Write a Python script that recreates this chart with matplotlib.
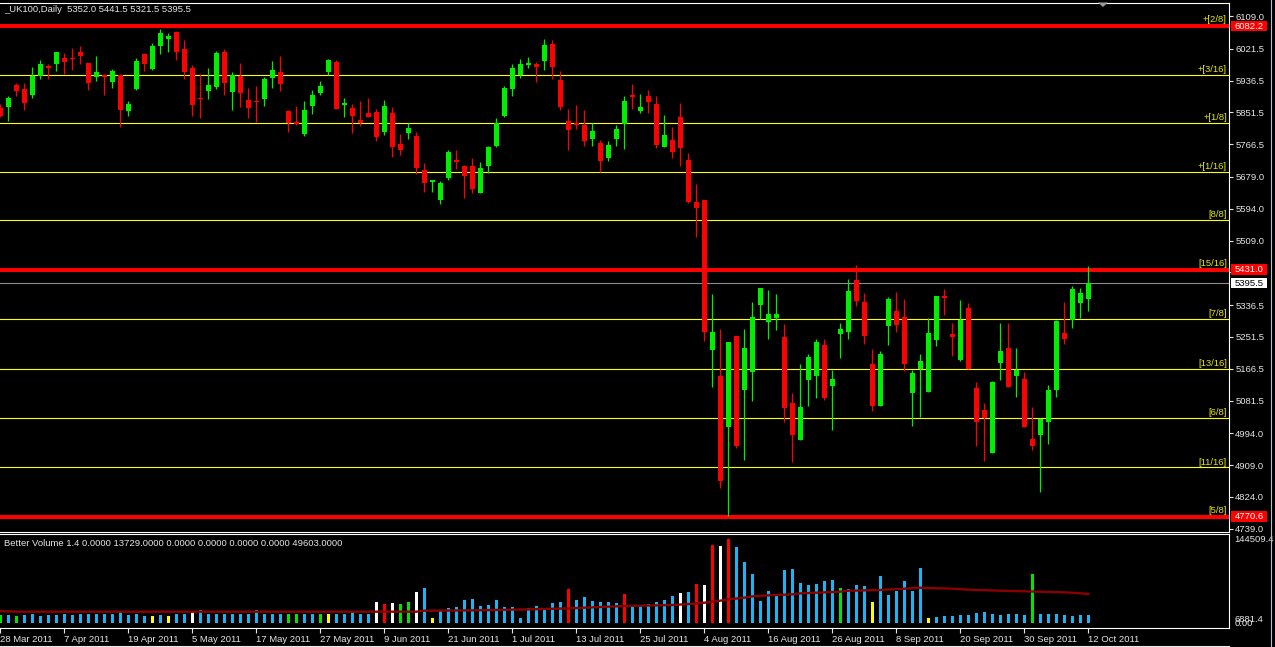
import matplotlib
matplotlib.use('Agg')
import matplotlib.pyplot as plt
import matplotlib.transforms as mtrans
from matplotlib.patches import Rectangle, Polygon
from matplotlib.lines import Line2D

plt.rcParams['font.family'] = ['Liberation Sans', 'DejaVu Sans']

# daily OHLC, 28 Mar 2011 .. 12 Oct 2011 (one entry per trading day)
opens = [5864, 5866, 5924, 5914, 5898, 5949, 5975, 5981, 5998, 5997,
         6013, 5983, 5947, 5951, 5933, 5951, 5856, 5914, 6007, 5967,
         6030, 6048, 6066, 6021, 5970, 5891, 5908, 5919, 6013, 5906,
         5948, 5884, 5882, 5888, 5943, 5959, 5855, 5825, 5794, 5869,
         5903, 5960, 5986, 5872, 5863, 5831, 5849, 5852, 5800, 5849,
         5767, 5797, 5788, 5697, 5666, 5617, 5676, 5724, 5708, 5708,
         5636, 5708, 5762, 5841, 5914, 5952, 5979, 5981, 5989, 6034,
         5938, 5828, 5823, 5817, 5781, 5769, 5730, 5781, 5821, 5898,
         5856, 5895, 5874, 5759, 5777, 5839, 5724, 5611, 5617, 5216,
         5146, 5010, 5255, 5109, 5157, 5337, 5291, 5302, 5250, 5074,
         4975, 5136, 5147, 5229, 5120, 5259, 5264, 5403, 5346, 5178,
         5066, 5280, 5320, 5304, 5101, 5165, 5104, 5243, 5360, 5258,
         5189, 5330, 5114, 5057, 4941, 5181, 5221, 5147, 5140, 4980,
         4989, 5023, 5109, 5261, 5298, 5342, 5352.0]
highs = [5875, 5895, 5929, 5929, 5973, 5991, 5982, 6013, 6009, 6023,
         6029, 5983, 6002, 5954, 5967, 5954, 5882, 5997, 6011, 6038,
         6074, 6063, 6069, 6045, 5978, 5954, 5970, 6016, 6021, 5959,
         5983, 5916, 5922, 5946, 5989, 6002, 5858, 5868, 5882, 5911,
         5935, 5994, 5991, 5890, 5874, 5882, 5890, 5860, 5884, 5866,
         5793, 5823, 5799, 5715, 5672, 5669, 5750, 5750, 5710, 5729,
         5718, 5761, 5836, 5922, 5981, 5994, 5999, 5986, 6047, 6045,
         5962, 5860, 5871, 5858, 5823, 5777, 5775, 5817, 5895, 5927,
         5900, 5911, 5895, 5844, 5812, 5876, 5742, 5660, 5617, 5365,
         5274, 5237, 5255, 5274, 5346, 5381, 5376, 5365, 5285, 5103,
         5178, 5205, 5245, 5245, 5162, 5288, 5405, 5443, 5368, 5218,
         5213, 5357, 5371, 5352, 5162, 5207, 5301, 5360, 5379, 5288,
         5349, 5341, 5130, 5076, 5135, 5288, 5288, 5223, 5159, 5063,
         5036, 5124, 5296, 5344, 5387, 5381, 5441.5]
lows = [5840, 5829, 5895, 5859, 5891, 5940, 5940, 5962, 5954, 5966,
        5982, 5911, 5935, 5898, 5917, 5813, 5841, 5911, 5962, 5965,
        6008, 6013, 5991, 5940, 5842, 5837, 5887, 5914, 5898, 5858,
        5866, 5837, 5826, 5868, 5916, 5909, 5800, 5817, 5789, 5847,
        5898, 5951, 5861, 5840, 5797, 5816, 5840, 5775, 5792, 5733,
        5738, 5781, 5687, 5639, 5639, 5607, 5671, 5700, 5623, 5636,
        5636, 5689, 5759, 5839, 5896, 5944, 5971, 5933, 5965, 5940,
        5858, 5751, 5807, 5762, 5762, 5692, 5722, 5762, 5754, 5860,
        5850, 5849, 5757, 5759, 5730, 5708, 5609, 5518, 5240, 5117,
        4847, 4774, 4954, 4922, 5080, 5299, 5246, 5270, 5023, 4916,
        4975, 5066, 5088, 5082, 5002, 5195, 5246, 5334, 5232, 5053,
        5066, 5229, 5264, 5160, 5013, 5037, 5104, 5227, 5309, 5200,
        5187, 5165, 4959, 4919, 4941, 5136, 5117, 5090, 5010, 4949,
        4836, 4965, 5090, 5232, 5275, 5302, 5321.5]
closes = [5842, 5891, 5908, 5877, 5948, 5981, 5971, 6013, 5987, 5994,
          6003, 5931, 5959, 5947, 5962, 5858, 5874, 5989, 5981, 6029,
          6064, 6056, 6014, 5960, 5871, 5887, 5924, 6011, 5931, 5951,
          5903, 5864, 5878, 5940, 5965, 5928, 5824, 5822, 5858, 5898,
          5922, 5991, 5861, 5876, 5842, 5824, 5840, 5786, 5868, 5759,
          5751, 5809, 5703, 5663, 5672, 5662, 5745, 5719, 5682, 5647,
          5702, 5759, 5823, 5916, 5970, 5981, 5984, 5973, 6031, 5973,
          5866, 5805, 5817, 5775, 5801, 5722, 5764, 5807, 5882, 5892,
          5866, 5880, 5765, 5791, 5746, 5757, 5612, 5596, 5264, 5266,
          4866, 5237, 4959, 5223, 5304, 5381, 5314, 5312, 5061, 4989,
          5065, 5197, 5239, 5088, 5138, 5272, 5373, 5347, 5254, 5066,
          5205, 5354, 5283, 5179, 5154, 5186, 5263, 5360, 5355, 5251,
          5298, 5165, 5023, 5034, 5130, 5215, 5117, 5162, 5010, 4959,
          5031, 5111, 5294, 5246, 5379, 5368, 5395.5]

# Better Volume histogram and its average line
volumes = [13300, 13300, 11600, 13300, 15000, 11600, 13300, 13300, 15000, 13300,
           15000, 15000, 15000, 15000, 15000, 20200, 13300, 15000, 11600, 11600,
           13300, 11600, 15000, 15000, 20200, 21900, 15000, 15000, 15000, 15000,
           15000, 15000, 21900, 15000, 15000, 15000, 15000, 15000, 15000, 15000,
           15000, 15000, 15000, 15000, 20200, 15000, 15000, 35700, 32300, 34000,
           32300, 35700, 53000, 59900, 8100, 20200, 25400, 27100, 39200, 40900,
           28800, 30600, 39200, 27100, 27100, 8100, 25400, 28800, 23600, 34000,
           35700, 58200, 39200, 44400, 37500, 35700, 35700, 34000, 49500, 27100,
           28800, 32300, 35700, 39200, 46100, 51300, 53000, 66800, 65100, 134100,
           132400, 144500, 130700, 104800, 84100, 37500, 54700, 46100, 91000, 92700,
           68500, 65100, 66800, 72000, 73700, 59900, 58200, 65100, 63300, 35700,
           80600, 47800, 54700, 72000, 54700, 94400, 8100, 9800, 11600, 11600,
           13300, 13300, 16700, 18500, 15000, 13300, 15000, 15000, 13300, 84100,
           15000, 15000, 15000, 13300, 11600, 13300, 13729]
# b=normal, g=low-volume churn, r=climax, w=high churn, y=low volume
vol_type = ("gbgbbbbbbb" "bbbbbbbbby" "bybbwbbbbb" "bbbbbbggbb" "gybbbbbwrw"
            "ggwbybbbbb" "bbbbbbbbbb" "brbbbbbbrb" "bbbbbwbrwr" "wrbbbbbbbb"
            "bbbbbgbbby" "bbbbbbybbb" "bbbbbbbbbg" "bbbbbbb")
ma_bar = [0, 2, 52, 53, 59, 66, 71, 74, 78, 84, 86, 88, 90, 91, 93, 94, 96, 99,
          100, 102, 105, 106, 110, 113, 115, 119, 121, 125, 133, 135, 136]
ma_val = [20100, 19000, 19000, 20700, 21300, 23000, 24700, 26500, 28800, 30500,
          32200, 34500, 38000, 40300, 43200, 45400, 47200, 48900, 50600, 51800,
          53500, 55200, 56400, 58700, 60400, 58700, 57000, 55200, 52500, 50800, 49603]

date_labels = ['28 Mar 2011', '7 Apr 2011', '19 Apr 2011', '5 May 2011', '17 May 2011',
               '27 May 2011', '9 Jun 2011', '21 Jun 2011', '1 Jul 2011', '13 Jul 2011',
               '25 Jul 2011', '4 Aug 2011', '16 Aug 2011', '26 Aug 2011', '8 Sep 2011',
               '20 Sep 2011', '30 Sep 2011', '12 Oct 2011']
# the 5424.0 tick sits under the red 5431.0 box, so its label is left out
price_ticks = [6109.0, 6021.5, 5936.5, 5851.5, 5766.5, 5679.0, 5594.0, 5509.0, 5424.0,
               5336.5, 5251.5, 5166.5, 5081.5, 4994.0, 4909.0, 4824.0, 4739.0]

# Murrey math levels
mm_levels = [6082.2, 5952.5, 5822.7, 5692.9, 5563.1, 5431.0, 5298.9, 5166.8, 5034.8, 4902.7, 4770.6]
mm_labels = ['+[2/8]', '+[3/16]', '+[1/8]', '+[1/16]', '[8/8]', '[15/16]', '[7/8]',
             '[13/16]', '[6/8]', '[11/16]', '[5/8]']
mm_major = [True, False, False, False, False, True, False, False, False, False, True]
last_price = 5395.5

W, H = 1275, 647
FS = 6.8
TXT = '#e6e6e6'


def px_box(x0, y0, x1, y1):
    return [x0 / W, 1 - y1 / H, (x1 - x0) / W, (y1 - y0) / H]


fig = plt.figure(figsize=(W / 100, H / 100), dpi=100, facecolor='black')
ax = fig.add_axes(px_box(0, 2.5, 1229, 531.5), facecolor='black')
ax2 = fig.add_axes(px_box(0, 534, 1229, 628), facecolor='black', sharex=ax)

for a in (ax, ax2):
    for s in ('top', 'right', 'bottom'):
        a.spines[s].set_color('white')
        a.spines[s].set_linewidth(0.8)
    a.spines['left'].set_visible(False)

idx = list(range(len(opens)))
ax.set_xlim(-0.04, 153.6)
ax.set_ylim(4731.6, 6145.1)

# levels
for lv, lab, major in zip(mm_levels, mm_labels, mm_major):
    if major:
        ax.axhline(lv, color='#ff0000', lw=2.9, zorder=2)
    else:
        ax.axhline(lv, color='#ffff00', lw=0.8, zorder=2)
    ax.annotate(lab, xy=(1, lv), xycoords=('axes fraction', 'data'),
                xytext=(-1.5, 1.6 if major else 0.6), textcoords='offset points',
                ha='right', va='bottom', color='#e8e800', fontsize=FS, zorder=5)
ax.axhline(last_price, color='#8c8c8c', lw=0.8, zorder=2)

# candles
col = ['#00ee00' if c >= o else '#ff0000' for o, c in zip(opens, closes)]
ax.vlines(idx, lows, highs, colors=col, linewidth=0.9, zorder=3)
bottoms, heights = [], []
for o, c in zip(opens, closes):
    h = abs(c - o)
    if h < 3.5:
        bottoms.append(min(o, c) - (3.5 - h) / 2)
        heights.append(3.5)
    else:
        bottoms.append(min(o, c))
        heights.append(h)
ax.bar(idx, heights, bottom=bottoms, width=0.62, color=col, linewidth=0, zorder=4)

ax.yaxis.tick_right()
ax.set_yticks(price_ticks)
ax.set_yticklabels(['' if v == 5424.0 else f'{v:.1f}' for v in price_ticks])
ax.tick_params(axis='y', colors=TXT, labelsize=FS, length=3, width=0.8, pad=1.5)
ax.tick_params(axis='x', bottom=False, labelbottom=False)

bt = mtrans.blended_transform_factory(ax.transAxes, ax.transData)
boxes = [(mm_levels[0], '#ff0000', 'white'), (mm_levels[5], '#ff0000', 'white'),
         (mm_levels[-1], '#ff0000', 'white'), (last_price, 'white', 'black')]
for val, fc, tc in boxes:
    ax.add_patch(Rectangle((1231 / 1229, val - 14.5), 36 / 1229, 29, transform=bt,
                           fc=fc, ec='none', clip_on=False, zorder=6))
    ax.text(1249 / 1229, val, f'{val:.1f}', transform=bt, ha='center', va='center',
            color=tc, fontsize=FS, zorder=7, clip_on=False)

# volume panel
vcol = {'b': '#1ab6f4', 'g': '#00e600', 'r': '#ff0000', 'w': '#ffffff', 'y': '#ffff00'}
ax2.bar(idx, volumes, width=0.375, color=[vcol[t] for t in vol_type], linewidth=0, zorder=3)
ax2.plot(ma_bar, ma_val, color='#8b0000', lw=1.7, zorder=4)
ax2.set_ylim(-9150, 153100)
ax2.yaxis.tick_right()
ax2.set_yticks([144509.4, 6881.4, 0])
ax2.set_yticklabels(['144509.4', '6881.4', '0.00'])
ax2.tick_params(axis='y', colors=TXT, labelsize=FS, length=0, pad=4)
ax2.set_xticks(range(0, len(idx), 8))
ax2.set_xticklabels(date_labels, ha='left')
ax2.tick_params(axis='x', colors=TXT, labelsize=FS, length=3.5, width=0.8, pad=1.2)

fig.text(4 / W, 1 - 10 / H, '_UK100,Daily  5352.0 5441.5 5321.5 5395.5',
         color=TXT, fontsize=FS, va='center', ha='left')
fig.text(4 / W, 1 - 544 / H,
         'Better Volume 1.4 0.0000 13729.0000 0.0000 0.0000 0.0000 0.0000 49603.0000',
         color=TXT, fontsize=FS, va='center', ha='left')

# window chrome
fig.patches.append(Polygon([[1098 / W, 1 - 2.5 / H], [1108 / W, 1 - 2.5 / H], [1103 / W, 1 - 7 / H]],
                           closed=True, transform=fig.transFigure, fc='#9a9a9a', ec='none'))
fig.lines.append(Line2D([1271 / W, 1271 / W], [0, 1], transform=fig.transFigure,
                        color='#b8bec6', lw=0.8))
fig.lines.append(Line2D([0, 1229 / W], [1 - 645.5 / H, 1 - 645.5 / H], transform=fig.transFigure,
                        color='#e8e8e8', lw=0.8))

fig.savefig('out.png', dpi=100, facecolor='black')
